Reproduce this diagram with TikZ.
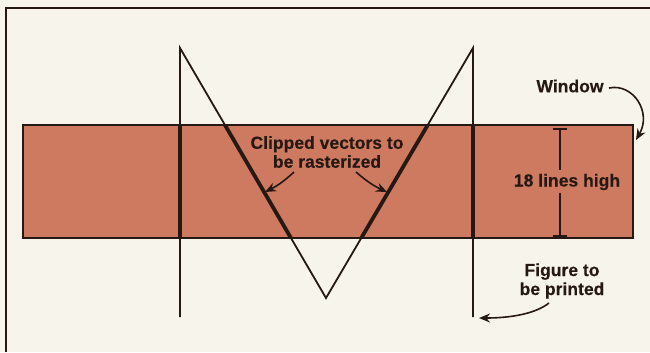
\documentclass[tikz,border=0pt]{standalone}
\usepackage{fontspec}
\setmainfont{Liberation Sans}[FakeBold=0.2]
\usetikzlibrary{arrows.meta}
\definecolor{paper}{HTML}{F7F4EC}
\definecolor{brick}{HTML}{CE7A60}
\definecolor{ink}{HTML}{261812}
\tikzset{
  lbl/.style={font=\bfseries\fontsize{17.6}{19}\selectfont, text=ink, align=center, inner sep=0pt},
  thin/.style={draw=ink, line width=1.8bp},
  thick/.style={draw=ink, line width=3.8bp},
  callout/.style={draw=ink, line width=1.6bp, -{Stealth[length=11bp,width=9bp]}},
}
\begin{document}
\begin{tikzpicture}[x=1bp,y=-1bp]
\useasboundingbox (0,0) rectangle (650,352);
\fill[paper] (0,0) rectangle (650,352);
% outer frame
\coordinate (fbl) at (6,352);
\coordinate (ftl) at (6,8);
\coordinate (ftr) at (650,8);
\draw[draw=ink, line width=2.4bp] (fbl) -- (ftl) -- (ftr);
% window
\coordinate (wtl) at (23,125);
\coordinate (wbr) at (633,238);
\draw[fill=brick, draw=ink, line width=1.8bp] (wtl) rectangle (wbr);
% figure to be printed
\coordinate (a1) at (180,317);
\coordinate (a2) at (180,48);
\coordinate (a3) at (326,298);
\coordinate (a4) at (473,48);
\coordinate (a5) at (473,317);
\draw[thin, line join=miter] (a1) -- (a2) -- (a3) -- (a4) -- (a5);
\begin{scope}
  \clip (wtl) rectangle (wbr);
  \draw[thick, line join=miter] (a1) -- (a2) -- (a3) -- (a4) -- (a5);
\end{scope}
% labels
\node[lbl] (win) at (570,86) {Window};
\node[lbl] (clip) at (327,152) {Clipped vectors to\\be rasterized};
\node[lbl] (high) at (567,182) {18 lines high};
\node[lbl] (fig) at (562,281) {Figure to\\be printed};
% dimension
\coordinate (dt) at (560,129);
\coordinate (db) at (560,236);
\draw[draw=ink, line width=1.8bp] (dt) -- (560,170);
\draw[draw=ink, line width=1.8bp] (560,193) -- (db);
\draw[draw=ink, line width=2.4bp] ([xshift=-7bp]dt) -- ([xshift=7bp]dt);
\draw[draw=ink, line width=2.4bp] ([xshift=-7bp]db) -- ([xshift=7bp]db);
% callouts
\coordinate (wt) at (636,140);
\draw[callout] (609,88) .. controls (633,83) and (652,112) .. (wt);
\coordinate (lt) at (265,192);
\coordinate (rt) at (387,192);
\draw[callout] (294,172) to[bend left=8] (lt);
\draw[callout] (356,172) to[bend right=8] (rt);
\coordinate (ft) at (479,318);
\draw[callout] (549,303) .. controls (535,314) and (510,318) .. (ft);
\end{tikzpicture}
\end{document}
